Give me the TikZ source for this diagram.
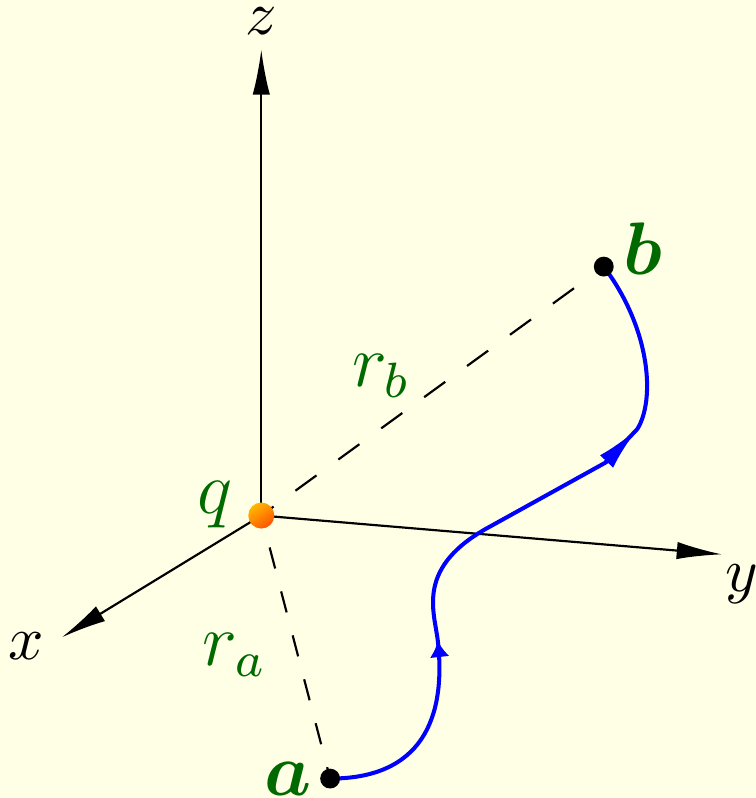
\documentclass[tikz,border=0pt]{standalone}
\usepackage{amsmath,bm}
\usetikzlibrary{arrows.meta}
\definecolor{bgyellow}{RGB}{255,255,230}
\definecolor{labelgreen}{RGB}{0,105,0}

\begin{document}
\begin{tikzpicture}[>=Latex,
  axis/.style={line width=0.35pt, -{Latex[length=7.3pt,width=2.8pt]}},
  radius line/.style={line width=0.35pt},
  path line/.style={blue, line width=0.65pt},
  point dot/.style={circle, fill=black, inner sep=0pt, minimum size=3.2pt},
  charge/.style={circle, inner sep=0pt, minimum size=4.2pt, top color=orange!55!yellow, bottom color=red!35!orange, shading angle=35},
  greenlabel/.style={text=labelgreen, font=\large}]
  % background
  \fill[bgyellow] (-1.48,-1.60) rectangle (2.80,2.92);
  \useasboundingbox (-1.48,-1.60) rectangle (2.80,2.92);
  % positions
  \coordinate (O) at (0,0);
  \coordinate (A) at (0.39,-1.49);
  \coordinate (B) at (1.94,1.41);
  % axes
  \coordinate (xtip) at (-1.13,-0.69);
  \coordinate (ytip) at (2.61,-0.22);
  \coordinate (ztip) at (0,2.64);
  \draw[axis] (O) -- (xtip);
  \draw[axis] (O) -- (ytip);
  \draw[axis] (O) -- (ztip);
  \node (xlab) at (-1.33,-0.74) {$x$};
  \node (ylab) at (2.72,-0.39) {$y$};
  \node[inner sep=1pt] (zlab) at (0,2.80) {$z$};
  % distances to the charge
  \draw[radius line, dash pattern=on 4.2pt off 4.35pt, dash phase=1.75pt] (O) -- (B);
  \draw[radius line, dash pattern=on 3.5pt off 3.82pt, dash phase=2pt] (O) -- (A);
  \node[greenlabel] (rb) at (0.68,0.79) {$r_b$};
  \node[greenlabel] (ra) at (-0.15,-0.79) {$r_a$};
  % path from a to b, then its two arrow heads
  \coordinate (m1) at (1.00,-0.71);
  \coordinate (m2) at (2.13,0.49);
  \coordinate (k2) at (1.95,0.30);
  \draw[path line] (A) .. controls (0.90,-1.49) and (1.05,-1.16) .. (m1)
    .. controls (0.98,-0.54) and (0.87,-0.29) .. (1.30,-0.06) -- (k2) -- (m2)
    .. controls (2.23,0.65) and (2.21,1.05) .. (B);
  \draw[path line, -{Latex[length=2.6pt,width=3.2pt]}] (1.01,-0.80) -- (m1);
  \draw[path line, -{Latex[length=7.2pt,width=2.9pt]}] (k2) -- (m2);
  % charge and end points
  \node[charge] (q) at (O) {};
  \node[point dot] (a) at (A) {};
  \node[point dot] (b) at (B) {};
  \node[greenlabel] (qlab) at (-0.26,0.06) {$q$};
  \node[greenlabel, inner sep=1pt] (alab) at (0.15,-1.49) {$\bm{a}$};
  \node[greenlabel] (blab) at (2.16,1.51) {$\bm{b}$};
\end{tikzpicture}
\end{document}
